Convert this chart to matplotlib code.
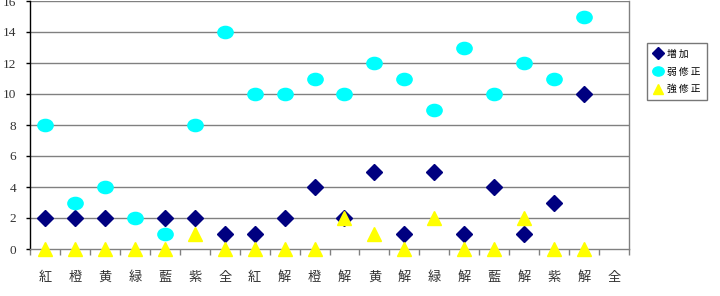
import matplotlib
matplotlib.use("Agg")
import matplotlib.pyplot as plt
import numpy as np
from matplotlib.path import Path
from matplotlib.transforms import Affine2D

categories = ["紅", "橙", "黄", "緑", "藍", "紫", "全", "紅", "解", "橙",
              "解", "黄", "解", "緑", "解", "藍", "解", "紫", "解", "全"]
zouka = [2, 2, 2, None, 2, 2, 1, 1, 2, 4, 2, 5, 1, 5, 1, 4, 1, 3, 10, None]
jaku = [8, 3, 4, 2, 1, 8, 14, 10, 10, 11, 10, 12, 11, 9, 13, 10, 12, 11, 15, None]
kyou = [0, 0, 0, 0, 0, 1, 0, 0, 0, 0, 2, 1, 0, 2, 0, 0, 2, 0, 0, None]
series_names = ["増 加", "弱 修 正", "強 修 正"]
yticks = [0, 2, 4, 6, 8, 10, 12, 14, 16]

def arr(v):
    return np.array([np.nan if x is None else x for x in v], dtype=float)

cjk = ["Noto Sans CJK JP", "DejaVu Sans"]

fig = plt.figure(figsize=(7.2, 2.96), dpi=100)
ax = fig.add_axes([30/720, 1 - 249/296, (629-30)/720, (249-1)/296])

x = np.arange(len(categories)) + 0.5
ellipse = Path.unit_circle().transformed(Affine2D().scale(1.0, 0.8))

ax.plot(x, arr(zouka), linestyle="none", marker="D", ms=8, color="#000080",
        markeredgecolor="#000080", label=series_names[0], zorder=3)
ax.plot(x, arr(jaku), linestyle="none", marker=ellipse, ms=11, color="#00FFFF",
        markeredgecolor="#00FFFF", label=series_names[1], zorder=4)
ax.plot(x, arr(kyou), linestyle="none", marker="^", ms=10, color="#FFFF00",
        markeredgecolor="#FFFF00", label=series_names[2], zorder=5, clip_on=False)

ax.set_xlim(0, len(categories))
ax.set_ylim(0, 16)
ax.set_yticks(yticks)
ax.set_yticklabels([str(v) for v in yticks], family="Liberation Serif", fontsize=9.5, color="#333333")
for v in yticks[1:]:
    ax.axhline(v, color="#808080", lw=1, zorder=1)

ax.set_xticks(np.arange(len(categories) + 1))
ax.set_xticklabels([])
ax.set_xticks(x, minor=True)
ax.set_xticklabels(categories, minor=True, family=cjk, fontsize=9.5, color="#333333")
ax.tick_params(axis="x", which="major", direction="out", length=4, color="#808080", width=1)
ax.tick_params(axis="x", which="minor", length=0, pad=16)
ax.tick_params(axis="y", direction="out", length=3, color="#000000", width=1, pad=7)

ax.spines["top"].set_visible(False)
ax.spines["right"].set_color("#808080")
ax.spines["bottom"].set_color("#808080")
ax.spines["left"].set_color("#000000")
for s in ax.spines.values():
    s.set_linewidth(1)

leg = fig.legend(loc="upper left", bbox_to_anchor=(642/720, 1 - 38/296),
                 prop={"family": cjk, "size": 7}, frameon=True, fancybox=False,
                 edgecolor="#555555", borderpad=0.6, labelspacing=0.8,
                 handlelength=1.0, handletextpad=0.5, markerscale=0.75)
leg.get_frame().set_linewidth(1)

fig.savefig("out.png", dpi=100)
